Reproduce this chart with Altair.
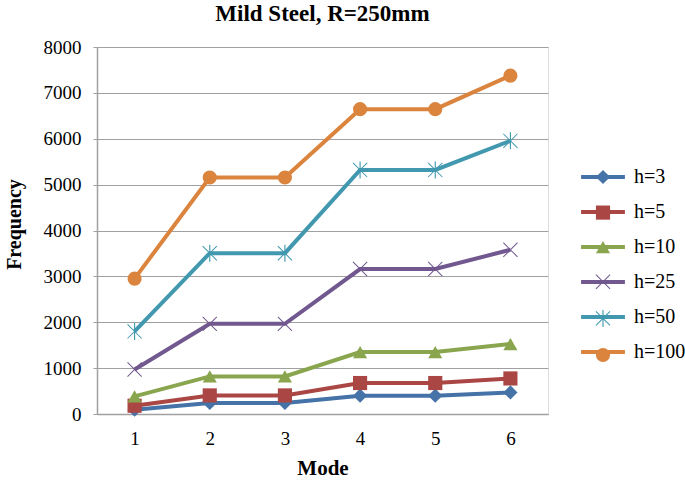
import altair as alt
import pandas as pd

modes = [1, 2, 3, 4, 5, 6]
series_names = ["h=3", "h=5", "h=10", "h=25", "h=50", "h=100"]
h3 = [95, 240, 240, 400, 400, 470]
h5 = [180, 405, 405, 675, 675, 775]
h10 = [385, 820, 820, 1350, 1350, 1525]
h25 = [970, 1965, 1965, 3160, 3160, 3580]
h50 = [1800, 3505, 3505, 5320, 5320, 5955]
h100 = [2950, 5155, 5155, 6645, 6645, 7375]
colors = ["#4572A7", "#AA4643", "#89A54E", "#71588F", "#4198AF", "#DB843D"]

X_PATH = ("M-1.05,-0.95L0.95,1.05L1.05,0.95L-0.95,-1.05Z"
          "M-0.95,1.05L1.05,-0.95L0.95,-1.05L-1.05,0.95Z")
STAR_PATH = X_PATH + "M-0.08,-1.2L-0.08,1.2L0.08,1.2L0.08,-1.2Z"
shapes = ["diamond", "square", "triangle-up", X_PATH, STAR_PATH, "circle"]

rows = []
for name, vals in zip(series_names, [h3, h5, h10, h25, h50, h100]):
    for m, v in zip(modes, vals):
        rows.append({"Mode": m, "Frequency": v, "series": name, "sp": name})
df = pd.DataFrame(rows)

FONT = "Liberation Serif"

x_enc = alt.X(
    "Mode:O",
    title="Mode",
    axis=alt.Axis(
        labelAngle=0,
        ticks=False,
        grid=False,
        domainColor="#A0A0A0",
        domainWidth=1.5,
        labelFont=FONT,
        labelFontSize=19,
        labelColor="black",
        labelPadding=15,
        titleFont=FONT,
        titleFontSize=21,
        titleFontWeight="bold",
        titleColor="black",
        titlePadding=9,
    ),
)
y_enc = alt.Y(
    "Frequency:Q",
    title="Frequency",
    scale=alt.Scale(domain=[0, 8000], nice=False),
    axis=alt.Axis(
        values=[0, 1000, 2000, 3000, 4000, 5000, 6000, 7000, 8000],
        format="d",
        grid=True,
        gridColor="#A0A0A0",
        gridWidth=1.2,
        domainColor="#A0A0A0",
        domainWidth=1.5,
        tickColor="#A0A0A0",
        tickSize=4,
        labelFont=FONT,
        labelFontSize=19,
        labelColor="black",
        labelPadding=12,
        titleFont=FONT,
        titleFontSize=20,
        titleFontWeight="bold",
        titleColor="black",
        titlePadding=19,
        titleY=177,
    ),
)

legend_common = dict(
    orient="none",
    legendX=496,
    legendY=120,
    title=None,
    labelFont=FONT,
    labelFontSize=20,
    labelColor="black",
    symbolSize=200,
    labelOffset=21,
)

lines = alt.Chart(df).mark_line(strokeWidth=4).encode(
    x=x_enc,
    y=y_enc,
    color=alt.Color(
        "series:N",
        scale=alt.Scale(domain=series_names, range=colors),
        legend=alt.Legend(
            symbolType="M-3.1,0H3.1",
            symbolStrokeWidth=4,
            rowPadding=15.0,
            **legend_common,
        ),
    ),
)

pt_legend = alt.Legend(labelExpr="' '", symbolOpacity=1, rowPadding=13.6, **legend_common)
points = alt.Chart(df).mark_point(size=200, filled=True, opacity=1).encode(
    x="Mode:O",
    y="Frequency:Q",
    color=alt.Color(
        "sp:N",
        scale=alt.Scale(domain=series_names, range=colors),
        legend=pt_legend,
    ),
    shape=alt.Shape(
        "sp:N",
        scale=alt.Scale(domain=series_names, range=shapes),
        legend=pt_legend,
    ),
)

chart = (
    alt.layer(lines, points)
    .resolve_scale(color="independent", shape="independent")
    .resolve_legend(color="independent", shape="independent")
    .properties(
        width=451,
        height=367,
        autosize=alt.AutoSizeParams(type="none"),
        padding={"left": 97, "top": 47, "right": 137, "bottom": 68},
        title=alt.Title(
            "Mild Steel, R=250mm",
            font=FONT,
            fontSize=23,
            fontWeight="bold",
            color="black",
            frame="group",
            anchor="middle",
            offset=12,
        ),
    )
    .configure_view(stroke=None)
    .configure(background="white")
)

chart.save("out.html", embed_options={"renderer": "svg", "actions": False})
